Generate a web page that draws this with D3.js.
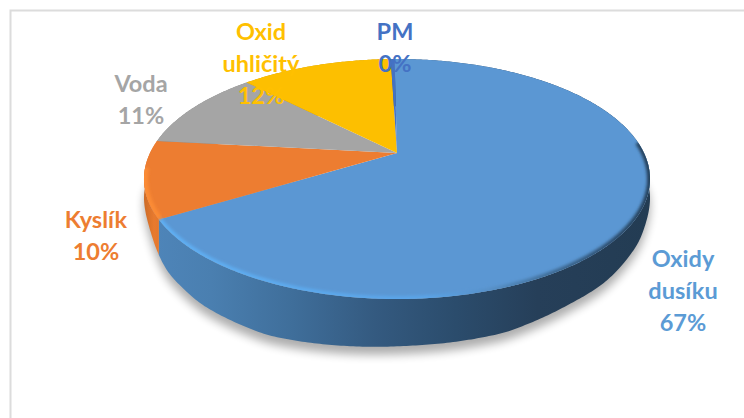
<!DOCTYPE html>
<html><head><meta charset="utf-8">
<script src="https://cdn.jsdelivr.net/npm/d3@7/dist/d3.min.js"></script>
<style>html,body{margin:0;padding:0;background:#fff}svg{display:block}</style>
</head><body><svg id="c" width="744" height="418"></svg>
<script>
const categories = ["Oxidy dusíku","Kyslík","Voda","Oxid uhličitý","PM"];
const values = [66.55,10.35,10.9,11.9,0.3];
const colors = ["#5b97d3","#ed7d31","#a5a5a5","#fdbf00","#4472c4"];
const labelColors = ["#5b9bd5","#ed7d31","#a5a5a5","#ffc000","#4472c4"];
const labelLines = [["Oxidy","dusíku"],["Kyslík"],["Voda"],["Oxid","uhličitý"],["PM"]];
const labelPos = [[683,267],[96,228],[141,92],[261,40],[395,40]];

const svg = d3.select("#c");
const defs = svg.append("defs");
const cx=397, cy=153, a=247, b=81.2, p=-0.2167;
const wallRaw=d3.scaleLinear().domain([143,148,163,200,267,333,405,505,572,605,645,652]).range([14,23,41,49,53,50,47,45,37,35,26,14]).clamp(true);
const wall=x=>d3.mean(d3.range(-8,9,2),k=>wallRaw(x+k));
const proj=(t)=>{const u=Math.sin(t),v=-Math.cos(t),w=1+p*v;return [cx+a*u/w,(cy+b*v)/w];};
const arcPts=(t0,t1)=>{const n=Math.max(2,Math.ceil(Math.abs(t1-t0)/0.01));return d3.range(n+1).map(i=>proj(t0+(t1-t0)*i/n));};
const drop=(pts,extra=0)=>pts.map(q=>[q[0],q[1]+wall(q[0])+extra]);
const line=d3.line();
const pie=d3.pie().sort(null).startAngle(-0.012).endAngle(2*Math.PI-0.012);
const slices=pie(values);

const blur=(id,s)=>defs.append("filter").attr("id",id).attr("x","-20%").attr("y","-20%").attr("width","140%").attr("height","140%").append("feGaussianBlur").attr("stdDeviation",s);
blur("sh",5);blur("b1",1.5);
const grad=(id,stops,x1=140,x2=650)=>{const g=defs.append("linearGradient").attr("id",id).attr("gradientUnits","userSpaceOnUse").attr("x1",x1).attr("x2",x2).attr("y1",0).attr("y2",0);
 stops.forEach(s=>g.append("stop").attr("offset",s[0]).attr("stop-color",s[1]));};
grad("sideBlue",[[0,"#4f86bb"],[0.14,"#4a7fb0"],[0.3,"#3f6e9a"],[0.46,"#345a80"],[0.62,"#2b4c6c"],[0.78,"#263f59"],[1,"#233c53"]]);
grad("sideOrange",[[0,"#c96a28"],[0.5,"#e87a2e"],[1,"#e0742c"]],143,165);
grad("rimBlue",[[0,"#5fb0f4"],[0.55,"#5aa4e8"],[0.68,"#568fc6"],[0.8,"#3f6c96"],[0.92,"#2d4e6e"],[1,"#24405a"]],155,650);
defs.append("clipPath").attr("id","topClip").append("path").attr("d",line(arcPts(0,2*Math.PI))+"Z");

// frame
svg.append("path").attr("d","M10.5,418V10.5H744").attr("fill","none").attr("stroke","#dcdcdc").attr("stroke-width",2);

// soft shadow
svg.append("path").attr("d",line(drop(arcPts(Math.PI*0.45,Math.PI*1.52),8))+"Z").attr("fill","#000").attr("opacity",0.32).attr("filter","url(#sh)");

// side walls
svg.append("g").selectAll("path").data(slices).join("path")
 .attr("d",d=>{const top=arcPts(d.startAngle,d.endAngle),bot=drop(arcPts(d.endAngle,d.startAngle));return line(top.concat(bot))+"Z";})
 .attr("fill",(d,i)=>i===0?"url(#sideBlue)":i===1?"url(#sideOrange)":d3.color(colors[i]).darker(0.6));

// top faces
svg.append("g").selectAll("path").data(slices).join("path")
 .attr("d",d=>line([[cx,cy]].concat(arcPts(d.startAngle,d.endAngle)))+"Z")
 .attr("fill",(d,i)=>colors[i]);

// bevel on the rim
const rim=svg.append("g").attr("clip-path","url(#topClip)");
rim.append("path").attr("d",line(arcPts(slices[0].endAngle,Math.PI*0.47)))
 .attr("fill","none").attr("stroke","url(#rimBlue)").attr("stroke-width",6).attr("filter","url(#b1)");
rim.append("path").attr("d",line(arcPts(slices[1].startAngle,slices[1].startAngle+0.42)))
 .attr("fill","none").attr("stroke","#fb8b36").attr("stroke-width",8).attr("filter","url(#b1)");

// labels
const fmt=d3.format(".0%"), total=d3.sum(values);
const lab=svg.append("g").attr("font-family","Lato, 'Open Sans', sans-serif").attr("font-weight",700).attr("font-size",23.5).attr("text-anchor","middle");
categories.forEach((c,i)=>{
  const lines=labelLines[i].concat([fmt(values[i]/total)]);
  lines.forEach((t,j)=>lab.append("text").attr("x",labelPos[i][0]).attr("y",labelPos[i][1]+j*32.2).attr("fill",labelColors[i]).text(t));
});
</script></body></html>
